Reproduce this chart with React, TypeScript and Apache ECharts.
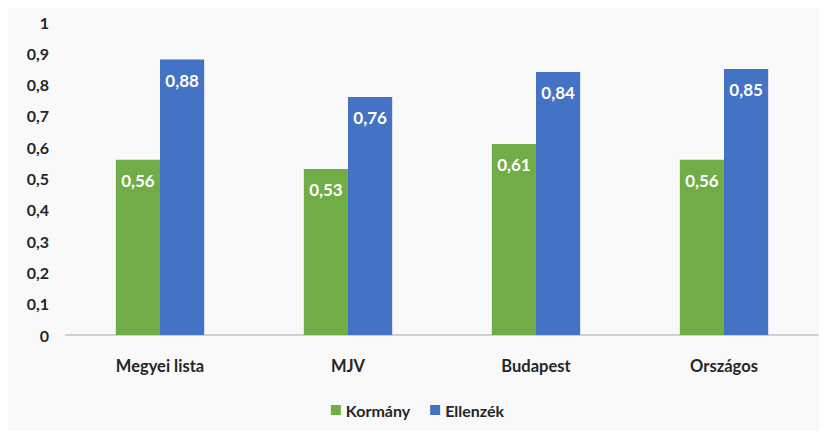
import React, { useEffect, useRef } from "react";
import * as echarts from "echarts";

const categories = ["Megyei lista", "MJV", "Budapest", "Országos"];
const kormany = [0.56, 0.53, 0.61, 0.56];
const ellenzek = [0.88, 0.76, 0.84, 0.85];
const seriesNames = ["Kormány", "Ellenzék"];

const FONT = "Lato, 'Open Sans', sans-serif";
const fmt = (v: number) => String(Math.round(v * 100) / 100).replace(".", ",");

export default function App() {
  const ref = useRef<HTMLDivElement>(null);
  useEffect(() => {
    if (!ref.current) return;
    const chart = echarts.init(ref.current, undefined, { renderer: "svg" });
    const label = {
      show: true,
      position: "insideTop",
      distance: 12,
      color: "#ffffff",
      fontWeight: "bold",
      fontSize: 17,
      fontFamily: FONT,
      formatter: (p: any) => fmt(p.value),
    };
    chart.setOption({
      animation: false,
      backgroundColor: "#f9f9f9",
      textStyle: { fontFamily: FONT },
      grid: { left: 58, right: 9, top: 14, bottom: 96, containLabel: false },
      legend: {
        data: seriesNames,
        bottom: 8,
        left: "center",
        itemWidth: 10,
        itemHeight: 10,
        itemGap: 20,
        icon: "rect",
        textStyle: { fontSize: 16, fontWeight: "bold", color: "#262626", fontFamily: FONT },
      },
      xAxis: {
        type: "category",
        data: categories,
        axisLine: { lineStyle: { color: "#d0d0d0", width: 2 } },
        axisTick: { show: false },
        axisLabel: { fontSize: 16.5, fontWeight: "bold", color: "#262626", margin: 22, fontFamily: FONT },
      },
      yAxis: {
        type: "value",
        min: 0,
        max: 1,
        interval: 0.1,
        splitLine: { show: false },
        axisLine: { show: false },
        axisTick: { show: false },
        axisLabel: {
          fontSize: 16,
          fontWeight: "bold",
          color: "#262626",
          margin: 17,
          fontFamily: FONT,
          formatter: (v: number) => fmt(v),
        },
      },
      series: [
        {
          name: seriesNames[0],
          type: "bar",
          data: kormany,
          itemStyle: { color: "#70ad47" },
          barGap: "0%",
          barCategoryGap: "53%",
          label,
        },
        {
          name: seriesNames[1],
          type: "bar",
          data: ellenzek,
          itemStyle: { color: "#4472c4" },
          barGap: "0%",
          barCategoryGap: "53%",
          label,
        },
      ],
    });
    return () => chart.dispose();
  }, []);
  return <div ref={ref} style={{ width: 819, height: 423 }} />;
}
